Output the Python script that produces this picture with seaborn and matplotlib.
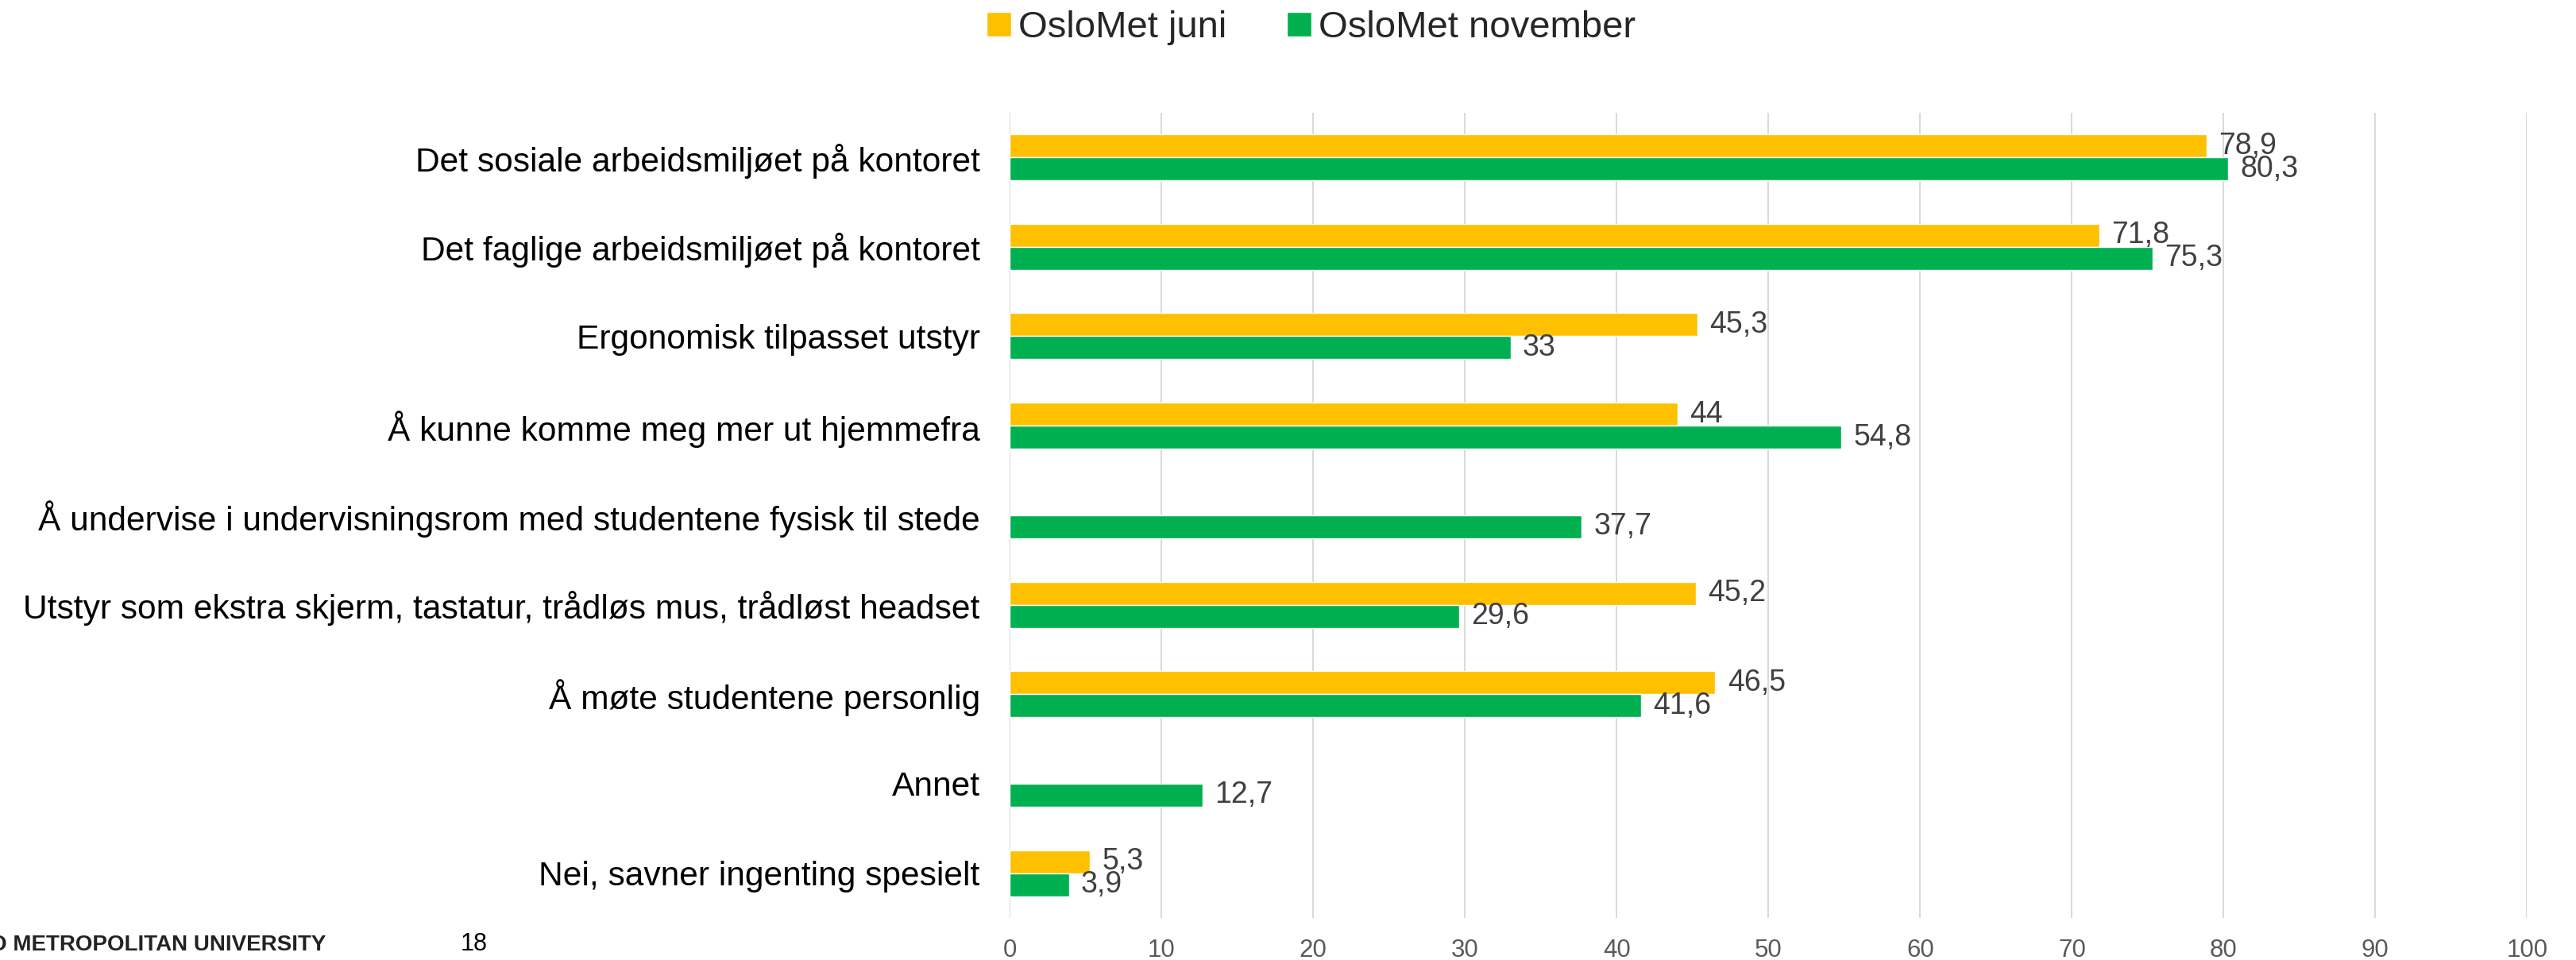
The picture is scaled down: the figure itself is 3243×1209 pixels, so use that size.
import matplotlib
matplotlib.use("Agg")
import matplotlib.pyplot as plt
import seaborn as sns
import pandas as pd
import numpy as np

# Data
categories = [
    "Det sosiale arbeidsmiljøet på kontoret",
    "Det faglige arbeidsmiljøet på kontoret",
    "Ergonomisk tilpasset utstyr",
    "Å kunne komme meg mer ut hjemmefra",
    "Å undervise i undervisningsrom med studentene fysisk til stede",
    "Utstyr som ekstra skjerm, tastatur, trådløs mus, trådløst headset",
    "Å møte studentene personlig",
    "Annet",
    "Nei, savner ingenting spesielt",
]
juni = [78.9, 71.8, 45.3, 44, np.nan, 45.2, 46.5, np.nan, 5.3]
november = [80.3, 75.3, 33, 54.8, 37.7, 29.6, 41.6, 12.7, 3.9]
series = ["OsloMet juni", "OsloMet november"]
colors = ["#FFC000", "#00B050"]
xticks = list(range(0, 101, 10))

df = pd.DataFrame({
    "kategori": categories * 2,
    "serie": [series[0]] * len(categories) + [series[1]] * len(categories),
    "verdi": juni + november,
})

sns.set_style("white")
plt.rcParams["font.family"] = ["Liberation Sans", "DejaVu Sans"]

fig = plt.figure(figsize=(32.43, 12.09), dpi=100)
ax = fig.add_axes([0.392, 0.0438, 0.589, 0.839])

sns.barplot(data=df, x="verdi", y="kategori", hue="serie", order=categories,
            hue_order=series, palette=colors, width=0.515, orient="h",
            errorbar=None, saturation=1, ax=ax, legend=True)

# value labels
for cont in ax.containers:
    ax.bar_label(cont, fmt=lambda v: f"{v:g}".replace(".", ","), padding=11,
                 fontsize=27, color="#404040")

ax.set_xlim(0, 100)
ax.set_ylim(len(categories) - 0.5, -0.5)
ax.set_xticks(xticks)
ax.set_xlabel("")
ax.set_ylabel("")
ax.grid(axis="x", color="#d9d9d9", linewidth=1.4)
ax.grid(axis="y", visible=False)
ax.set_axisbelow(True)
for s in ax.spines.values():
    s.set_visible(False)
ax.tick_params(axis="y", length=0, pad=27, labelsize=30.6, labelcolor="black")
ax.tick_params(axis="x", length=0, pad=19, labelsize=22.5, labelcolor="#595959")

# legend on top
handles, labels = ax.get_legend_handles_labels()
ax.get_legend().remove()
fig.legend(handles, labels, loc="center", bbox_to_anchor=(0.509, 0.971), ncol=2,
           frameon=False, fontsize=34, handlelength=0.65, handleheight=0.65,
           handletextpad=0.2, columnspacing=1.6)

# footer
fig.text(410 / 3243, 0.01, "OSLO METROPOLITAN UNIVERSITY", ha="right", va="baseline",
         fontsize=20, fontweight="bold", color="#222222")
fig.text(580 / 3243, 0.01, "18", ha="left", va="baseline", fontsize=22, color="black")

fig.savefig("out.png", dpi=100)
